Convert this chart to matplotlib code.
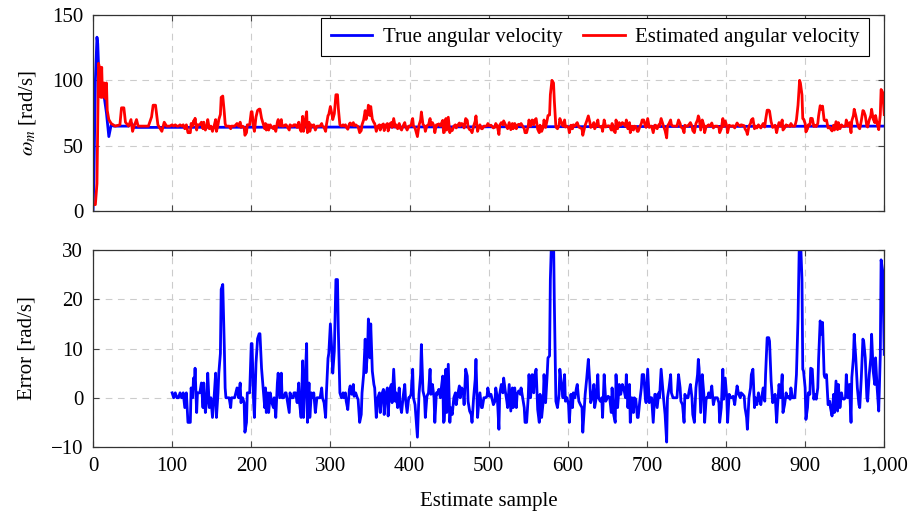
import matplotlib
matplotlib.use("Agg")
import matplotlib.pyplot as plt
from matplotlib.ticker import FuncFormatter

# true angular velocity (start-up transient, then steady)
true_samples = [0, 1, 3, 5, 6, 8, 11, 14, 17, 20, 23, 26, 45, 49, 52, 1000]
true_values = [0, 20, 100, 133, 128, 95, 90, 88, 75, 57, 66, 65, 65, 67, 64, 65]
true_level = 65

# estimated angular velocity before the error plot starts
est_early_samples = [0, 3, 5, 7, 9, 10, 11, 12, 14, 16, 17, 18, 20, 23, 28, 34, 36, 39,
                     41, 45, 48, 50, 52, 55, 57, 64, 70, 74, 76, 79, 82, 85, 87, 90, 93, 97]
est_early_values = [5, 5, 21, 113, 108, 87, 110, 87, 98, 86, 98, 77, 70, 67, 65, 66, 79, 79,
                    68, 65, 70, 61, 65, 70, 65, 65, 65, 72, 81, 81, 66, 63, 61, 68, 65, 65]

# estimation error (estimated - true), from sample 100 on
err_samples = [
    100, 102, 104, 106, 108, 110, 112, 114, 116, 118, 120, 123, 124, 126, 127, 128, 129, 131,
    132, 133, 135, 137, 139, 140, 142, 144, 145, 147, 149, 150, 151, 153, 155, 156, 158, 159,
    161, 162, 164, 166, 167, 168, 170, 172, 174, 175, 177, 179, 182, 184, 186, 187, 189, 191,
    192, 194, 195, 197, 198, 200, 201, 203, 204, 206,
    208, 210, 211, 213, 215, 217, 218, 219, 221, 222, 224, 226, 228, 229, 231, 233, 234, 236,
    238, 239, 241, 243, 244, 246, 248, 249, 251, 253, 254, 256, 258, 260, 261, 263, 265, 266,
    268, 270, 271, 273, 274, 276, 278, 279, 281, 283, 285, 287, 289, 290, 292, 294, 295, 297,
    298, 300, 302, 303, 305, 307, 309, 310, 312, 314, 316, 317,
    319, 320, 322, 324, 325, 327, 329, 330, 332, 334, 335, 337, 339, 340, 342, 344, 345, 347,
    348, 350, 351, 353, 355, 356, 358, 360, 362, 363, 365, 367, 368, 370, 372, 373, 375, 377,
    378, 380, 382, 383, 385, 387, 388, 390, 392, 394, 395, 397, 399, 400, 402, 404, 405, 407,
    409, 410, 412, 414, 415, 417, 419, 420, 422, 424, 426, 427, 429, 431, 432, 434,
    435, 437, 439, 440, 442, 443, 444, 446, 447, 449, 451, 452, 454, 456, 458, 459, 461, 463,
    464, 466, 468, 469, 471, 473, 474, 476, 478, 479, 481, 483, 484, 486, 487, 489, 491, 492,
    494, 496, 498, 499, 501, 503, 504, 506, 508, 509, 511, 513, 514, 516, 518, 519, 521, 523,
    524, 526, 528, 530, 531, 533, 535, 536, 538, 540, 541, 543, 545, 546, 548, 550, 551,
    553, 555, 557, 558, 560, 562, 564, 565, 567, 569, 570, 572, 574, 575, 577, 578, 580, 582,
    583, 584, 585, 587, 589, 590, 592, 594, 596, 597, 599, 601, 602, 604, 606, 607, 609, 611,
    612, 614, 616, 618, 619, 621, 622, 624, 626, 628, 629, 631, 633, 634, 636, 638, 639, 641,
    643, 644, 646, 648, 650, 651, 653, 655, 656, 658, 660, 661, 663, 665,
    666, 667, 669, 671, 673, 674, 676, 678, 679, 681, 683, 684, 686, 688, 689, 691, 693, 694,
    696, 698, 699, 701, 703, 705, 706, 708, 710, 711, 713, 715, 716, 718, 720, 721, 723, 725,
    726, 728, 730, 731, 733, 735, 737, 738, 740, 742, 743, 745, 747, 748, 750, 752, 753, 755,
    757, 758, 760, 762, 764, 765, 766, 768, 770, 772, 773, 775, 777, 778,
    780, 782, 784, 786, 787, 789, 791, 792, 794, 796, 797, 799, 801, 802, 804, 806, 807, 809,
    811, 812, 814, 816, 818, 819, 821, 823, 824, 826, 827, 829, 831, 832, 834, 836, 837, 839,
    841, 842, 844, 846, 847, 849, 850, 852, 854, 855, 857, 859, 861, 862, 864, 865, 867, 869,
    871, 872, 874, 876, 877, 879, 881, 882, 884, 886, 887, 889, 891, 892, 893, 894, 896, 897,
    898, 900, 901, 903, 904, 906, 907, 909, 911, 912, 914, 916, 917, 919, 921, 922, 924, 925,
    927, 929, 931, 932, 934, 936, 937, 939, 941, 942, 944, 946, 947, 949, 951, 952, 954, 956,
    958, 959, 961, 962, 964, 966, 968, 969, 971, 973, 974, 976, 978, 979, 981, 983, 984, 986,
    988, 989, 991, 993, 995, 996, 998, 1000,
]
err_values = [
    1, 0, 1, 0, 0, 1, 0, 1, -2, 1, -5, -5, 2, 0, 4, 2, 6, -3,
    1, 1, 1, 3, -2, 3, -3, 0, 5, -2, 0, -2, -4, 0, 5, -4, 1, 5,
    9, 22, 23, 10, 2, 0, 0, 0, -2, 0, 0, 0, 2, 0, 3, -1, 0, -1,
    -7, -5, 1, 1, 1, 11, 11, -1, -4, 7,
    12, 13, 13, 6, 2, -2, 2, -3, 1, -3, 1, -1, -2, 0, -4, 3, 5, 0,
    5, 0, 0, 1, 1, -1, -3, 1, 0, 0, 1, 1, -1, 3, -1, -4, 7.5, -4,
    3, 11, -5, 3, -4, 1, 0, 1, -3, 0, 0, 0, 2, 0, -1, -4, 1, 8,
    9, 15, 9, 5, 9.5, 24, 24, 14, 1, 0, 1, 0,
    1, -0.7, -2.4, 1.7, 2.4, 0.7, 2.7, 0.3, 1, 0, -0.3, -5, -3.4, 1, 4.7, 11.9, 5.1, 9.5,
    16, 8.1, 15, 5.4, 2.7, 2, -4, 0, 1, -3, 0.7, 1.7, -3.4, 0.7, 2, -3.7, 1.7, 2.7,
    -1, 5.8, -0.7, 1, -2, 2, -1.4, -3, 0.3, 2.7, -0.3, -3, 0, 0, 0.7, 5.8, 0, -1.4,
    -6, -8, 0.7, 4.7, 10.8, 1.4, 0, -4, 0.3, 1, 5.8, 0.7, 2.7, 0, -5, 1,
    0.7, 1.7, 0, 1.7, 4.4, -5, -4.7, 5.8, -3, 6.8, -5, -2, -3.4, 0, 1, -1.4, 0.7, 2.4,
    0, 2, 1, -1.4, 5.8, 4.4, -0.7, -2.7, -3.4, -5, 0, 3.7, 7.8, -4, -2, 1, -2, -2,
    0, 0, 0.3, 2, 0.3, 0.7, 0, -1.4, -0.7, 2, 0, -6.4, 0.7, 2.7, 1, 4, 1.4, -0.7,
    -2, 2.7, -2.7, 2, -2, 2, -2, 0.7, 1.4, 0.7, 2, 0, -2, -5, -5, 0, 4.7,
    0, 4.7, 1, 4.4, 5.8, -2.4, -5, 0.7, -4, -0.7, 4.7, -1, 4.7, 8.1, 8.5, 24, 35, 33,
    19.7, 9.5, -0.7, -2, 0.7, 5.8, 2.7, 0, 4.7, -0.7, 0, -1.4, -5, 0.7, -2, 1, 0, 2,
    2.7, -0.7, -1.4, -2, -7, -2, 0.7, 4, 7.8, 2.7, -1, 0, 2.7, -2, 0, 4.7, 0, -0.7,
    0, -4, 4.7, -0.7, 0, 0.3, 0, -3, 2, -3.4, -5, 4.7, -2, 2.7,
    0.7, 0.7, 2.7, 1.7, 0, 4.7, -2, 2.7, -5, 0, -3, 0, -0.3, -4, -4, -0.7, 2, 4.7,
    4.7, 0, -1, 5.8, -1, 0, 0, -5, 0.7, 0.7, -2, 1, 0, 5.8, 2, 0, -3.4, -9,
    0, 2, 4.7, 1, 0, 0, 0, 0, 4.7, 2, -0.7, -1.4, -5, 0.7, 0, 0, 1, 2.7,
    0, -3.4, -5, 2, 4.7, 7.8, 6, -3, 4.7, 0.7, -5, 0, 0, 1,
    0, 2.4, -1.4, 0, 0, 0, -1, -5, -2, 5.8, -0.3, 4, 0, -5, 0.7, 0, 0, 0.3,
    -1.4, 0, 2.4, 0.7, 0, 1, 0.7, 0.3, -2, -4, -6.4, 0, 2, 4.7, 5.8, -2, 0, -1.4,
    1, 0, -1.4, 1, 2, -0.7, 4.7, 12.2, 12.2, 11.5, 3.4, -1, 0, 0.7, -5, -2, 2.7, 0,
    4.7, -3, -1.4, 1, 0, 0.3, -0.3, 2, 0, 0, 0, 4.7, 16, 26, 35, 33, 24, 5.8,
    5.4, 2, -4.4, -2, 1, 0.7, 6, 5.8, -0.3, 0.7, -0.3, 2, 7.8, 15.6, 12.9, 15.3, 4.7, 4.1,
    4.7, -1.4, -0.7, -2, -3.7, 0.7, -3, 3.4, -2.7, 2.7, -2, 1, 0, -0.3, 0, 4.7, 0, 2.7,
    -5, 4.1, 8.1, 12.9, 8.1, 2, -1.4, -2, 4.1, 11.9, 11.5, 8.1, 0, -0.7, 4.7, 8.1, 12.9, 5.4,
    2.7, 8.1, 2, -2.7, 8.8, 28, 25.8, 8.8,
]

est_samples = est_early_samples + err_samples
est_values = est_early_values + [true_level + e for e in err_values]

plt.rcParams['font.family'] = ['Liberation Serif', 'DejaVu Serif']
plt.rcParams['mathtext.fontset'] = 'stix'
plt.rcParams['font.size'] = 15
plt.rcParams['axes.unicode_minus'] = True

fig = plt.figure(figsize=(9.19, 5.15), dpi=100)
ax1 = fig.add_axes([0.1012, 0.590, 0.861, 0.381])
ax2 = fig.add_axes([0.1012, 0.132, 0.861, 0.3826])

ax1.plot(true_samples, true_values, color=(0, 0, 1), lw=2.0, label="True angular velocity")
ax1.plot(est_samples, est_values, color=(1, 0, 0), lw=2.0, label="Estimated angular velocity")
ax2.plot(err_samples, err_values, color=(0, 0, 1), lw=2.0)

ax1.set_ylim(0, 150)
ax1.set_yticks([0, 50, 100, 150])
ax2.set_ylim(-10, 30)
ax2.set_yticks([-10, 0, 10, 20, 30])

for ax in (ax1, ax2):
    ax.set_xlim(0, 1000)
    ax.set_xticks(range(0, 1001, 100))
    ax.grid(True, color='#cccccc', linestyle=(0, (6, 5)), linewidth=0.8)
    ax.set_axisbelow(True)
    ax.tick_params(direction='in', top=True, right=True, length=4, width=0.8,
                   color='#444444', pad=7)
    for s in ax.spines.values():
        s.set_linewidth(0.9)
        s.set_color('#333333')

ax1.tick_params(labelbottom=False)
ax2.xaxis.set_major_formatter(FuncFormatter(lambda v, p: "{:,.0f}".format(v)))

ax1.set_ylabel(r"$\omega_m$ [rad/s]", labelpad=10)
ax2.set_ylabel("Error [rad/s]", labelpad=10)
ax2.set_xlabel("Estimate sample", labelpad=12)

leg = ax1.legend(loc='upper right', ncol=2, fancybox=False, edgecolor='black',
                 framealpha=1, handlelength=2.0, columnspacing=1.0, handletextpad=0.5,
                 borderpad=0.45, borderaxespad=0, fontsize=15,
                 bbox_to_anchor=(0.981, 0.985))
leg.get_frame().set_linewidth(0.8)

fig.savefig("out.png", dpi=100)
